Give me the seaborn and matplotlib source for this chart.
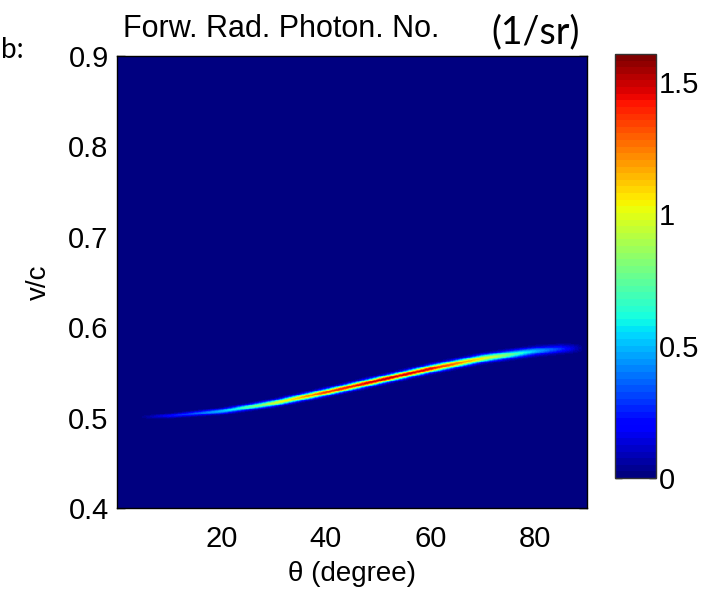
import numpy as np
import pandas as pd
import matplotlib
matplotlib.use("Agg")
import matplotlib.pyplot as plt
import seaborn as sns

# ---- data ----
ridge_theta = [4, 10, 20, 30, 40, 50, 60, 70, 80, 85, 89.5]
ridge_vc = [0.5005, 0.502, 0.507, 0.516, 0.528, 0.541, 0.554, 0.5655, 0.5735, 0.576, 0.577]
ridge_peak = [0.0, 0.2, 0.5, 0.95, 1.35, 1.5, 1.45, 1.05, 0.5, 0.28, 0.0]
ridge_width = [0.0013, 0.0015, 0.0019, 0.0022, 0.0024, 0.0025, 0.0026, 0.0027, 0.0029, 0.0030, 0.0031]
x_ticks = [20, 40, 60, 80]
y_ticks = [0.4, 0.5, 0.6, 0.7, 0.8, 0.9]
cbar_ticks = [0, 0.5, 1, 1.5]
cbar_labels = ["0", "0.5", "1", "1.5"]
theta_range = (0.0, 90.0)
vc_range = (0.4, 0.9)
vmax = 1.606

# ---- grid ----
dth = 0.25
dv = 0.0005
theta_c = np.arange(theta_range[0] + dth / 2, theta_range[1], dth)
vc_c = np.arange(vc_range[1] - dv / 2, vc_range[0], -dv)  # descending: top row first
cen = np.interp(theta_c, ridge_theta, ridge_vc)
pk = np.interp(theta_c, ridge_theta, ridge_peak, left=0, right=0)
wd = np.interp(theta_c, ridge_theta, ridge_width)
Z = pk[None, :] * np.exp(-0.5 * ((vc_c[:, None] - cen[None, :]) / wd[None, :]) ** 2)
df = pd.DataFrame(Z, index=np.round(vc_c, 5), columns=np.round(theta_c, 3))

sns.set_style("white")
plt.rcParams["font.family"] = ["Liberation Sans", "DejaVu Sans"]
plt.rcParams["text.color"] = "black"
plt.rcParams["axes.labelcolor"] = "black"
plt.rcParams["xtick.color"] = "black"
plt.rcParams["ytick.color"] = "black"

fig = plt.figure(figsize=(7.18, 5.93), dpi=100)
ax = fig.add_axes([0.163, 0.1433, 0.6546, 0.7622])
cax = fig.add_axes([0.8565, 0.1939, 0.0571, 0.7151])

cmap = plt.get_cmap("jet", 64)
sns.heatmap(df, ax=ax, cbar_ax=cax, cmap=cmap, vmin=0, vmax=vmax,
            xticklabels=False, yticklabels=False, rasterized=True)

# axis ticks in index coordinates
xt = [(t - theta_range[0]) / dth for t in x_ticks]
yt = [(vc_range[1] - v) / dv for v in y_ticks]
ax.set_xticks(xt)
ax.set_xticklabels([str(t) for t in x_ticks])
ax.set_yticks(yt)
ax.set_yticklabels([f"{v:.1f}" for v in y_ticks], rotation=0)
for s in ax.spines.values():
    s.set_visible(True)
    s.set_color("black")
    s.set_linewidth(1.0)
ax.tick_params(axis="both", direction="in", length=6, width=1, color="black",
               labelcolor="black", labelsize=21, top=True, right=True,
               bottom=True, left=True)
ax.tick_params(axis="x", pad=12)
ax.tick_params(axis="y", pad=6)
ax.set_xlabel("θ (degree)", fontsize=20, labelpad=6, color="black")
ax.set_ylabel("v/c", fontsize=20, labelpad=12, color="black")

cb = ax.collections[0].colorbar
cb.set_ticks(cbar_ticks)
cb.set_ticklabels(cbar_labels)
cb.outline.set_visible(True)
cb.outline.set_edgecolor("#333333")
cb.outline.set_linewidth(1.0)
cax.tick_params(direction="in", length=5, width=1, left=True, right=True,
                labelsize=21, pad=2, colors="black")

fig.text(0.391, 0.951, "Forw. Rad. Photon. No.", fontsize=22, ha="center", va="center")
fig.text(0.746, 0.946, "(1/sr)", fontsize=27, ha="center", va="center",
         family=["Lato", "DejaVu Sans"])
fig.text(0.001, 0.916, "b:", fontsize=20, ha="left", va="center",
         family=["Lato", "DejaVu Sans"])

fig.savefig("out.png", dpi=100)
